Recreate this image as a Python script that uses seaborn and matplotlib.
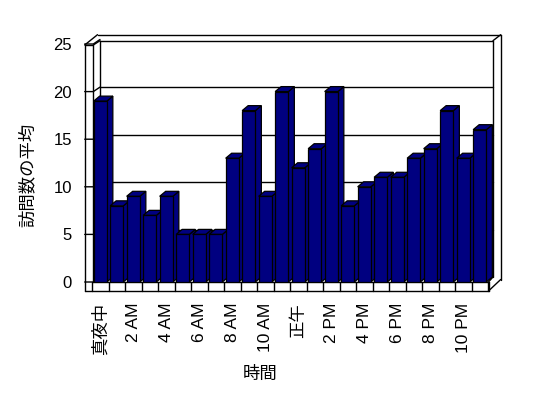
import matplotlib
matplotlib.use('Agg')
import matplotlib.pyplot as plt
import matplotlib.transforms as mtransforms
from matplotlib.patches import Polygon
import seaborn as sns
import pandas as pd

# ---- data ----
hours = ['真夜中', '1 AM', '2 AM', '3 AM', '4 AM', '5 AM', '6 AM', '7 AM', '8 AM',
         '9 AM', '10 AM', '11 AM', '正午', '1 PM', '2 PM', '3 PM', '4 PM', '5 PM',
         '6 PM', '7 PM', '8 PM', '9 PM', '10 PM', '11 PM']
values = [19, 8, 9, 7, 9, 5, 5, 5, 13, 18, 9, 20, 12, 14, 20, 8, 10, 11, 11, 13, 14, 18, 13, 16]
tick_labels = ['真夜中', '2 AM', '4 AM', '6 AM', '8 AM', '10 AM', '正午',
               '2 PM', '4 PM', '6 PM', '8 PM', '10 PM']
y_ticks = [0, 5, 10, 15, 20, 25]
x_title = '時間'
y_title = '訪問数の平均'

sns.set_theme(style='white')
plt.rcParams['font.family'] = ['Liberation Sans', 'Noto Sans CJK JP', 'DejaVu Sans']

W, H = 548, 398
fig = plt.figure(figsize=(W / 100, H / 100), dpi=100)
fig.patch.set_facecolor('white')

L, R, T, B = 92, 488, 44, 282
bg = fig.add_axes([0, 0, 1, 1], zorder=0)
bg.set_xlim(0, W)
bg.set_ylim(H, 0)
bg.axis('off')

ax = fig.add_axes([L / W, 1 - B / H, (R - L) / W, (B - T) / H], zorder=1)
ax.patch.set_alpha(0)

df = pd.DataFrame({x_title: hours, y_title: values})
sns.barplot(data=df, x=x_title, y=y_title, color='#000080', saturation=1,
            edgecolor='black', linewidth=0.9, width=0.8, ax=ax, zorder=3)
ax.set_xlim(-0.5, len(hours) - 0.5)
ax.set_ylim(0, 25)

# 3D depth faces for bars
px_x = (R - L) / len(hours)
px_y = (B - T) / 25.0
ddx = 6 / px_x
ddy = 5 / px_y
for p in list(ax.patches):
    x0 = p.get_x()
    x1 = x0 + p.get_width()
    h = p.get_height()
    side = Polygon([(x1, 0), (x1, h), (x1 + ddx, h + ddy), (x1 + ddx, ddy)],
                   closed=True, facecolor='#000080', edgecolor='black',
                   linewidth=0.9, zorder=2, clip_on=False)
    top = Polygon([(x0, h), (x1, h), (x1 + ddx, h + ddy), (x0 + ddx, h + ddy)],
                  closed=True, facecolor='#000080', edgecolor='black',
                  linewidth=0.9, zorder=2, clip_on=False)
    ax.add_patch(side)
    ax.add_patch(top)

ytr = ax.get_yaxis_transform()
# back-wall gridlines
off = mtransforms.ScaledTranslation(0, 4.5 / 100, fig.dpi_scale_trans)
for v in y_ticks[1:-1]:
    ax.plot([(100 - L) / (R - L), (493 - L) / (R - L)], [v, v],
            color='black', lw=1.0, zorder=0.5, clip_on=False,
            transform=ytr + off)

# left-wall tick marks
for v in y_ticks:
    ax.plot([(84.7 - L) / (R - L), (93.3 - L) / (R - L), (100 - L) / (R - L)],
            [v, v, v + 4.5 / px_y], color='black', lw=1.0, transform=ytr,
            clip_on=False, zorder=0.6)

# floor dividers
xtr = ax.get_xaxis_transform()
for k in range(len(hours) + 1):
    ax.plot([k - 0.5, k - 0.5], [0, -9 / (B - T)], color='black', lw=1.0,
            transform=xtr, clip_on=False, zorder=0.6)

# frame (walls and floor)
seg = [
    [(84.7, 45), (84.7, 291)],
    [(93.3, 45), (93.3, 282)],
    [(84.7, 45), (93.3, 45)],
    [(84.7, 45), (97.5, 34.7)],
    [(93.3, 45), (100, 40.7)],
    [(97.5, 34.7), (500.7, 34.7)],
    [(100, 40.7), (493, 40.7)],
    [(100, 40.7), (100, 277)],
    [(493, 40.7), (493, 277)],
    [(500.7, 34.7), (500.7, 279.5)],
    [(493, 40.7), (500.7, 34.7)],
    [(84.7, 291), (488.5, 291)],
    [(93.3, 282), (488.5, 282)],
    [(488.5, 282), (488.5, 291)],
    [(488.5, 291), (500.7, 279.5)],
    [(488.5, 282), (493, 277)],
]
for s in seg:
    bg.plot([s[0][0], s[1][0]], [s[0][1], s[1][1]], color='black', lw=1.0)

# ticks / labels
ax.set_yticks(y_ticks)
ax.set_yticklabels([str(t) for t in y_ticks], fontsize=12)
ax.set_xticks(list(range(0, len(hours), 2)))
ax.set_xticklabels(tick_labels, rotation=90, fontsize=12.5)
ax.tick_params(axis='y', length=0, pad=14.5, colors='black')
ax.tick_params(axis='x', length=0, pad=15, colors='black')
for sp in ax.spines.values():
    sp.set_visible(False)
ax.grid(False)

ax.set_xlabel(x_title, fontsize=12.5, color='black')
ax.set_ylabel(y_title, fontsize=12.5, color='black')
ax.xaxis.set_label_coords((260 - L) / (R - L), (B - 366) / (B - T))
ax.yaxis.set_label_coords((36 - L) / (R - L), (B - 175) / (B - T))

fig.savefig('out.png', dpi=100, facecolor='white')
